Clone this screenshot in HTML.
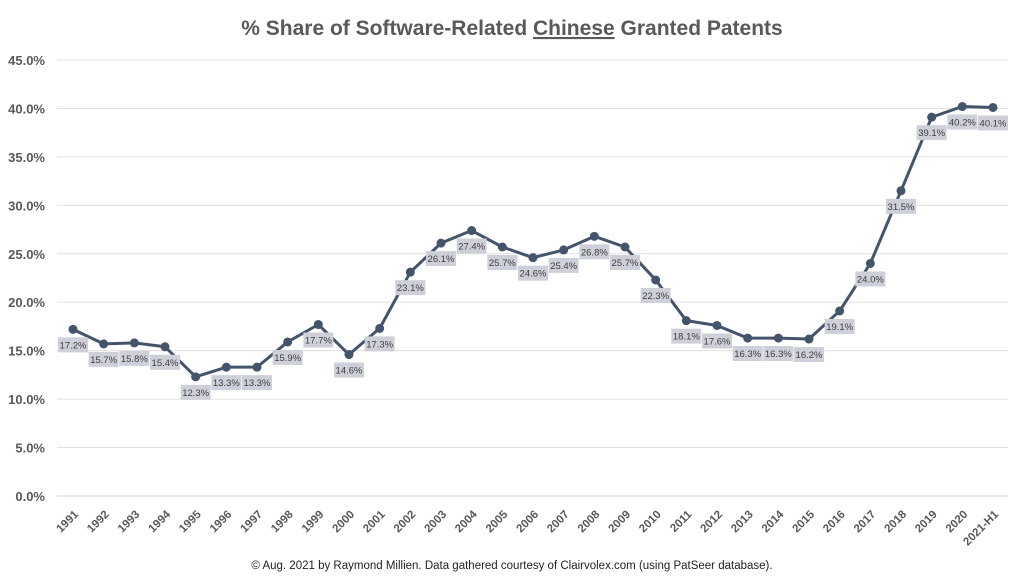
<!DOCTYPE html>
<html><head><meta charset="utf-8"><style>
body{margin:0;background:#fff;font-family:"Liberation Sans",sans-serif}
svg text{font-family:"Liberation Sans",sans-serif}
</style></head><body>
<svg width="1024" height="582" id="c">
<text x="512" y="35" text-anchor="middle" font-size="21" font-weight="bold" fill="#595959">% Share of Software-Related <tspan text-decoration="underline">Chinese</tspan> Granted Patents</text>
<text x="512" y="569" text-anchor="middle" font-size="11.5" fill="#222">© Aug. 2021 by Raymond Millien. Data gathered courtesy of Clairvolex.com (using PatSeer database).</text>
<g id="grid"></g><g id="yt"></g><g id="xt"></g><g id="ln"></g><g id="lb"></g>
</svg>
<script>
const categories=["1991","1992","1993","1994","1995","1996","1997","1998","1999","2000","2001","2002","2003","2004","2005","2006","2007","2008","2009","2010","2011","2012","2013","2014","2015","2016","2017","2018","2019","2020","2021-H1"];
const values=[17.2,15.7,15.8,15.4,12.3,13.3,13.3,15.9,17.7,14.6,17.3,23.1,26.1,27.4,25.7,24.6,25.4,26.8,25.7,22.3,18.1,17.6,16.3,16.3,16.2,19.1,24.0,31.5,39.1,40.2,40.1];
const yTicks=[0,5,10,15,20,25,30,35,40,45];
const NS="http://www.w3.org/2000/svg";
const x=i=>73+i*(993-73)/(categories.length-1);
const y=v=>496-v*(436/45);
function mk(t,a,p){const e=document.createElementNS(NS,t);for(const k in a)e.setAttribute(k,a[k]);document.getElementById(p).appendChild(e);return e;}
yTicks.forEach(t=>{
 const g=mk('line',{x1:57,x2:1008,y1:y(t),y2:y(t),stroke:t==0?'#d0d0d0':'#e0e0e0','stroke-width':1},'grid');
 
 
 const l=mk('text',{x:45,y:y(t)+5,'text-anchor':'end','font-size':13,'font-weight':'bold',fill:'#595959'},'yt');
 l.textContent=t.toFixed(1)+'%';
 
 
});
categories.forEach((c,i)=>{
 const t=mk('text',{x:x(i)+6,y:515,'text-anchor':'end','font-size':11.5,'font-weight':'bold',fill:'#595959',transform:`rotate(-45 ${x(i)+6} 515)`},'xt');
 t.textContent=c;
 
 
});
const pl=mk('polyline',{points:values.map((v,i)=>x(i)+','+y(v)).join(' '),fill:'none',stroke:'#44546a','stroke-width':3,'stroke-linejoin':'round'},'ln');


values.forEach((v,i)=>{
 const d=mk('circle',{cx:x(i),cy:y(v),r:4.5,fill:'#44546a'},'ln');
 
 
 const r=mk('rect',{x:x(i)-15,y:y(v)+8,width:30,height:15,fill:'#cdd0d9'},'lb');
 
 
 const t=mk('text',{x:x(i),y:y(v)+19,'text-anchor':'middle','font-size':9.5,fill:'#404040'},'lb');
 t.textContent=v.toFixed(1)+'%';
 
 
});
</script>
</body></html>
